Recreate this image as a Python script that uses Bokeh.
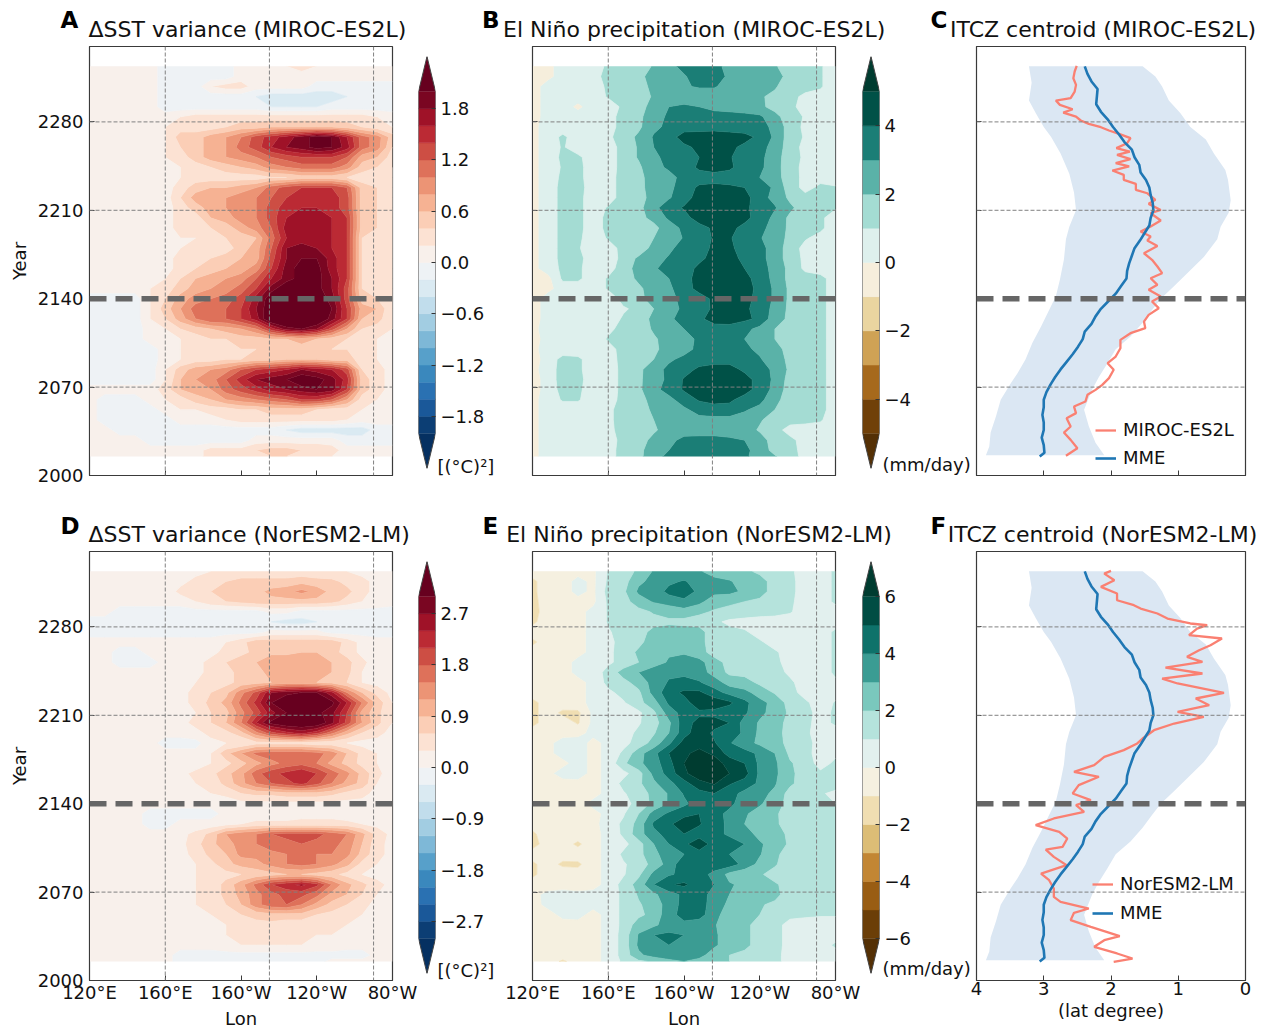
import numpy as np
from bokeh.embed import file_html
from bokeh.resources import INLINE
from bokeh.layouts import row, column
from bokeh.plotting import figure
from bokeh.models import (Range1d, FixedTicker, Span, Label, Legend, LegendItem, LinearAxis, GlobalInlineStyleSheet)

LONS = [120,128,136,144,152,160,168,176,184,192,200,208,216,224,232,240,248,256,264,272,280]
FIELD_YEARS = [2324,2316,2308,2300,2292,2284,2276,2268,2260,2252,2244,2236,2228,2220,2212,2204,2196,2188,2180,2172,
               2164,2156,2148,2140,2132,2124,2116,2108,2100,2092,2084,2076,2068,2060,2052,2044,2036,2028,2020,2015]

# all fields below are in tenths of the plotted unit, top row = latest year
SST_MIROC = [
[1,1,1,1,1,-1,-1,-1,-1,-1,1,1,1,2,3,2,1,1,1,1,1],
[1,1,1,1,1,-1,-1,-1,-1,-1,1,1,1,1,1,1,1,1,1,1,1],
[1,1,1,1,1,-1,-1,-1,2,3,3,1,1,1,1,-1,-1,-1,-1,-1,-1],
[1,1,1,1,1,-1,-1,-1,-1,-1,-1,-2,-3,-3,-3,-3,-3,-2,-1,-1,-1],
[1,1,1,1,1,-1,-1,-1,-1,-1,-1,-1,-2,-2,-2,-2,-1,-1,-1,-1,-1],
[1,1,1,1,1,1,2,3,3,3,3,3,3,3,3,3,3,3,3,2,1],
[1,1,1,1,1,2,3,3,3,4,5,5,6,6,6,6,6,5,4,3,2],
[1,1,1,1,1,2,5,5,7,8,10,13,15,17,19,21,20,16,11,9,5],
[1,1,1,1,1,2,4,5,7,8,11,13,16,18,19,21,20,17,11,9,4],
[1,1,1,1,1,2,3,5,7,8,9,10,12,13,14,14,14,12,7,6,3],
[1,1,1,1,1,1,2,3,4,5,6,7,9,10,11,11,11,9,5,4,2],
[1,1,1,1,1,1,2,3,3,3,3,3,4,4,5,5,5,4,3,3,2],
[1,1,1,1,1,1,3,5,6,6,7,8,11,13,14,14,14,12,5,4,2],
[1,1,1,1,1,1,4,7,8,8,9,10,12,14,15,15,15,13,5,4,2],
[1,1,1,1,1,1,3,5,7,8,9,10,13,15,16,16,15,13,5,4,2],
[1,1,1,1,1,1,3,3,6,7,9,10,13,16,17,17,16,14,5,4,2],
[1,1,1,1,1,1,3,3,4,5,7,9,12,17,17,17,16,14,5,4,2],
[1,1,1,1,1,1,2,2,3,4,5,6,11,16,17,17,16,14,4,3,2],
[1,1,1,1,1,1,2,3,3,3,5,7,12,18,19,18,16,14,4,3,2],
[1,1,1,1,1,1,3,3,4,5,6,7,13,18,20,20,17,14,4,3,2],
[1,1,1,1,1,1,3,4,5,6,7,9,14,19,21,21,17,14,4,3,2],
[1,1,1,1,1,2,4,6,7,8,9,12,16,19,21,21,18,14,4,3,2],
[1,1,1,1,2,3,5,7,8,9,11,14,19,22,22,21,18,13,4,3,2],
[-1,-1,-1,-1,2,4,7,9,10,11,13,17,22,23,23,22,19,13,5,4,2],
[-1,-1,-1,-1,2,5,8,11,12,12,14,18,22,24,24,23,20,14,7,6,2],
[-1,-1,-1,-1,2,4,7,10,12,12,14,17,23,24,24,23,19,14,6,5,2],
[-1,-1,-1,-1,1,2,4,5,6,7,8,10,15,19,20,18,13,8,4,3,2],
[-1,-1,-1,-1,1,1,2,3,4,4,5,5,6,6,7,6,5,4,3,2,1],
[-1,-1,-1,-1,-1,1,2,3,3,3,4,4,5,5,5,5,4,4,3,2,1],
[-1,-1,-1,-1,-1,1,2,3,3,4,4,5,5,6,6,6,5,5,3,2,1],
[-1,-1,-1,-1,-1,2,5,7,8,9,12,14,15,16,18,17,16,13,4,3,1],
[-1,-1,-1,-1,-1,2,6,8,9,12,15,18,19,20,22,21,19,15,5,3,1],
[1,1,1,1,1,3,6,7,8,11,13,15,17,18,19,20,19,14,5,3,1],
[1,-1,-1,-1,1,2,3,5,6,8,9,10,11,12,14,14,12,8,3,2,1],
[1,-1,-1,-1,-1,1,2,2,3,3,4,4,5,5,5,4,3,3,2,1,1],
[1,-1,-1,-1,-1,-1,1,1,1,2,3,3,3,3,3,3,3,2,1,1,1],
[1,1,-1,-1,-1,-1,-1,-1,-1,-1,-1,-1,-1,-2,-3,-3,-3,-3,-3,-1,-1],
[1,1,1,1,-1,-1,-1,-1,-1,-1,-1,1,1,1,1,1,1,-1,-1,-1,-1],
[1,1,1,1,1,1,1,1,3,3,3,4,5,5,4,4,3,1,1,1,1],
[1,1,1,1,1,1,1,1,3,3,3,4,4,4,3,3,2,1,1,1,1],
]
SST_NOR = [
[1,1,1,1,1,1,1,2,3,3,4,4,4,4,4,4,3,3,2,1,1],
[1,1,1,1,1,1,2,4,4,6,7,7,7,7,8,7,7,5,4,2,1],
[1,1,1,1,1,1,4,4,6,7,8,8,10,11,13,11,8,7,4,2,1],
[1,1,1,1,1,1,1,3,5,6,7,8,8,8,8,8,7,5,3,2,1],
[1,1,-1,-1,-1,-1,-1,-1,-1,-1,-1,-1,1,1,-1,-1,-1,-1,-1,-1,-1],
[-1,-1,-1,-1,-1,-1,-1,-1,-1,-2,-3,-3,-3,-4,-4,-3,-3,-2,-1,-1,-1],
[-1,-1,-1,-1,-1,-1,-1,-1,-1,-1,-1,-1,1,1,1,1,-1,-1,-1,-1,-1],
[1,1,1,1,1,1,1,1,1,3,5,8,8,8,8,8,8,5,2,1,1],
[1,1,-1,-1,1,1,1,1,2,4,5,7,8,8,9,9,7,5,2,1,1],
[1,1,-1,-1,-1,1,1,2,4,6,8,9,12,12,12,12,9,7,4,1,1],
[1,1,1,1,1,1,1,2,4,5,7,8,10,12,12,11,9,7,3,2,1],
[1,1,1,1,1,1,1,3,5,5,7,8,9,10,10,9,8,6,3,2,1],
[1,1,1,1,1,1,2,4,6,8,14,19,27,29,30,30,25,15,9,5,2],
[1,1,1,1,1,1,2,4,7,10,16,22,30,33,34,33,31,24,15,8,3],
[1,1,1,1,1,1,2,3,6,8,14,19,26,30,31,31,28,21,11,7,3],
[1,1,1,1,1,1,2,4,6,9,15,24,31,33,34,33,28,20,12,7,3],
[1,1,1,1,1,1,1,2,4,5,8,14,20,23,25,22,16,10,6,4,2],
[1,1,1,1,1,-1,-1,-1,2,3,3,5,5,5,5,4,4,3,2,2,1],
[1,1,1,1,1,1,1,1,3,8,12,16,17,17,17,16,14,9,5,3,1],
[1,1,1,1,1,1,1,1,3,5,8,11,14,16,17,15,11,8,5,3,1],
[1,1,1,1,1,1,2,4,5,8,11,17,20,22,24,21,17,13,8,4,1],
[1,1,1,1,1,1,2,3,4,7,11,15,18,20,22,19,15,11,8,3,1],
[1,1,1,1,1,1,1,2,3,4,6,7,7,8,8,8,7,5,4,2,1],
[1,1,1,1,1,1,1,1,1,1,2,2,2,2,2,2,2,2,2,2,1],
[1,1,1,1,-1,-1,-1,-1,-1,1,1,1,1,1,2,2,2,1,1,1,1],
[1,1,1,1,-1,-1,1,1,1,2,3,4,4,4,4,4,4,4,3,2,1],
[1,1,1,1,1,1,2,4,7,12,14,15,18,19,19,19,17,15,10,5,2],
[1,1,1,1,1,1,2,5,8,11,13,15,17,17,18,17,16,14,9,4,2],
[1,1,1,1,1,1,2,4,7,9,13,13,14,15,16,15,15,13,8,4,2],
[1,1,1,1,1,1,1,3,5,8,10,11,13,15,16,15,13,10,5,3,1],
[1,1,1,1,1,1,1,3,4,5,6,7,8,9,9,8,7,5,3,2,1],
[1,1,1,1,1,1,1,3,4,7,11,16,21,23,25,22,15,10,7,4,2],
[1,1,1,1,1,1,1,3,4,7,10,14,17,19,19,16,11,9,6,3,2],
[1,1,1,1,1,1,1,3,4,6,9,14,17,18,15,11,8,6,4,2,1],
[1,1,1,1,1,1,1,2,3,5,6,7,8,8,8,6,5,4,3,2,1],
[1,1,1,1,1,1,1,1,2,3,4,5,5,4,4,3,3,3,2,1,1],
[1,1,1,1,1,1,1,1,2,3,4,4,4,4,4,3,3,2,1,1,1],
[1,1,1,1,1,1,1,1,1,2,3,3,3,3,3,2,2,1,1,1,1],
[1,1,1,1,1,1,-1,-1,-1,-1,-1,-1,-1,-1,-1,-1,-1,-1,-1,1,1],
[1,1,1,1,1,1,-1,-1,-1,-1,-1,-1,-1,-1,-1,-1,1,1,1,1,1],
]
PR_MIROC = [
[-5,-3,5,5,5,12,15,15,21,27,33,36,33,27,26,26,21,15,14,11,5],
[-5,-3,5,5,5,15,15,18,23,26,29,35,35,28,26,26,26,15,15,11,5],
[-5,5,5,5,5,12,15,17,22,26,29,31,31,26,26,26,21,15,15,11,5],
[-5,5,5,5,5,11,13,16,21,23,24,24,24,23,22,21,18,14,7,7,5],
[-5,5,5,-2,5,5,12,16,24,30,32,30,28,27,25,22,17,12,7,6,5],
[-5,5,5,5,5,6,14,18,25,32,33,33,33,33,33,32,23,15,9,7,5],
[-3,5,5,5,5,6,14,18,28,32,36,36,36,36,35,33,28,15,8,6,5],
[-3,5,12,5,5,8,15,22,31,36,44,45,46,44,43,38,28,15,9,6,5],
[-3,5,11,5,5,5,14,21,30,36,38,42,43,42,38,34,26,15,7,7,5],
[-3,5,12,12,5,5,14,21,28,33,34,40,42,41,35,33,24,15,8,7,5],
[-3,5,11,13,5,5,14,18,28,31,34,42,43,42,35,32,25,13,8,6,5],
[-3,5,12,13,5,6,14,17,25,28,32,35,37,35,33,30,24,15,7,7,5],
[-3,5,13,14,5,6,14,18,23,28,34,42,42,42,40,36,28,15,7,12,11],
[-3,5,13,13,5,6,14,17,23,29,36,44,46,46,44,34,27,18,13,13,12],
[-3,5,13,13,5,11,14,17,27,36,41,44,46,45,42,36,31,22,15,13,11],
[-3,5,13,13,5,13,16,18,22,32,36,45,46,44,42,37,27,18,15,12,5],
[-3,5,13,13,5,13,15,16,18,24,33,36,42,42,38,33,26,18,15,12,5],
[-3,5,13,12,5,11,11,13,20,23,31,36,41,41,35,31,24,18,11,7,5],
[-3,5,13,11,5,6,13,13,24,28,34,36,42,42,36,33,26,15,7,7,5],
[-3,5,13,13,5,5,13,22,26,31,35,38,43,43,38,33,26,15,8,7,5],
[-3,5,12,12,5,6,15,24,29,33,36,42,45,45,40,34,27,17,8,7,5],
[-5,-3,12,12,5,11,15,22,26,30,36,44,45,45,43,36,27,17,14,12,7],
[-5,-3,5,5,5,11,15,18,25,28,36,43,46,46,43,38,28,18,14,12,7],
[-5,5,11,5,5,5,13,18,23,27,33,36,42,44,42,38,28,18,14,12,7],
[-5,5,5,5,5,6,9,12,20,26,32,35,42,44,41,38,26,18,14,12,7],
[-5,5,5,5,5,6,11,16,22,28,34,38,44,45,42,38,24,18,14,12,7],
[-3,5,5,5,5,8,13,16,21,26,30,34,36,36,33,27,20,16,14,12,7],
[-5,5,5,5,5,11,15,16,19,23,26,32,34,33,30,26,20,16,14,12,7],
[-3,5,5,5,5,7,13,15,18,24,26,33,33,34,32,28,24,16,14,12,7],
[-5,5,13,12,5,6,13,17,20,28,33,35,36,36,35,31,24,18,14,12,7],
[-3,5,14,12,5,5,13,18,25,33,36,42,44,44,38,34,28,18,14,12,7],
[-5,5,14,13,5,5,13,18,26,32,41,46,46,46,44,36,28,16,14,12,7],
[-5,5,13,12,5,5,13,18,27,34,41,44,46,46,44,36,27,15,14,12,7],
[-3,5,11,11,5,6,13,17,23,27,35,41,43,42,36,33,23,15,14,12,7],
[-3,5,5,5,5,8,14,15,22,26,28,34,36,36,31,27,20,15,13,12,7],
[-3,5,5,5,5,8,14,16,20,26,26,27,27,27,26,21,16,13,12,11,5],
[-3,5,5,5,5,8,13,16,19,23,25,26,26,25,24,19,13,7,7,6,5],
[-3,5,5,5,5,6,13,17,22,27,33,33,33,32,30,24,16,12,7,5,5],
[-3,5,5,5,5,7,13,17,26,30,34,35,36,35,33,25,17,13,7,5,5],
[-3,5,5,5,5,6,14,17,27,32,34,34,34,34,32,25,21,14,7,5,5],
]
PR_NOR = [
[-5,-5,-4,-3,-2,11,15,22,31,33,33,31,26,24,22,18,15,12,5,5,12],
[-12,-5,-4,3,-2,12,16,28,33,38,41,36,33,31,26,24,16,13,5,5,12],
[-12,-5,-4,3,-2,14,18,32,34,43,45,38,33,33,28,24,16,13,5,5,12],
[-13,-5,-4,-3,-2,12,16,25,31,34,38,33,24,22,20,18,14,12,5,5,12],
[-14,-5,-4,-3,3,11,14,17,21,24,26,22,19,17,15,14,13,11,5,5,5],
[-12,-5,-4,-3,3,11,13,15,17,18,17,16,12,8,7,6,6,5,5,5,5],
[-5,-5,-4,-3,3,9,14,16,23,25,25,24,14,13,11,7,5,5,5,5,12],
[-12,-5,-4,-3,3,8,13,17,26,28,28,24,14,13,12,11,7,5,5,5,12],
[-5,-5,-4,-3,3,8,14,22,28,29,29,25,15,14,13,13,11,7,5,5,12],
[-5,-5,-4,3,3,8,14,20,26,31,34,33,25,16,14,13,12,7,5,5,12],
[-4,-5,-4,3,4,14,24,30,35,38,38,35,26,18,17,15,14,8,5,5,12],
[-4,-5,-4,-3,3,13,17,24,34,41,43,41,35,26,24,18,15,12,5,5,8],
[-4,-5,-4,-3,3,8,13,18,34,46,52,52,44,37,33,26,19,14,6,5,6],
[-13,-5,-4,-3,3,3,9,17,26,42,46,56,56,52,43,33,27,16,12,5,11],
[-13,-5,-12,-12,3,3,4,8,18,35,44,48,47,44,42,32,27,18,14,6,12],
[-13,-5,-4,-11,3,3,5,9,16,28,46,53,54,50,36,29,24,17,13,6,12],
[-4,-5,-4,-3,3,3,6,12,19,30,46,56,48,46,38,28,24,16,12,6,5],
[-4,-3,5,5,-3,3,7,14,24,38,54,56,51,41,34,28,24,17,14,6,5],
[-4,-3,5,5,-3,3,12,26,37,50,58,63,58,46,44,38,30,18,14,5,8],
[-4,-3,-3,5,-3,3,18,28,35,47,60,66,65,56,50,38,32,21,16,6,12],
[-5,-3,5,5,-3,3,7,16,33,44,58,66,64,60,54,38,32,23,14,12,16],
[-4,-5,-4,-3,-3,3,13,18,28,37,46,57,61,51,46,38,31,22,15,12,14],
[-4,-4,-5,-4,-3,3,9,15,23,31,41,46,50,44,37,33,28,16,13,11,8],
[-5,-4,-4,-4,3,3,7,13,23,31,38,45,46,42,36,31,26,15,12,11,10],
[-5,-4,-4,-4,-3,3,9,20,34,42,47,50,43,38,31,27,22,14,12,11,11],
[-5,-4,-4,-4,-3,5,12,24,42,48,56,51,44,38,30,26,22,15,12,11,12],
[-12,-4,-4,-4,-3,3,12,26,37,44,50,46,44,38,33,28,24,18,13,11,11],
[-14,-5,-5,-12,-3,3,7,16,30,40,48,56,46,46,40,31,27,18,14,12,12],
[-5,-5,-5,-4,-3,3,12,17,27,36,40,46,44,40,38,31,22,16,13,12,12],
[-12,-5,-12,-12,-3,3,9,14,24,34,47,50,44,45,37,27,21,15,13,12,11],
[-12,-5,-3,-5,-3,3,9,18,33,39,42,43,38,27,23,21,17,14,12,11,11],
[-5,-5,-3,-5,-3,3,14,24,40,49,52,45,40,31,28,25,21,17,14,12,11],
[-3,3,3,3,3,3,13,21,28,36,42,45,36,30,30,27,23,15,13,11,11],
[-4,3,3,3,3,3,13,19,24,35,43,45,35,28,26,21,18,14,12,11,11],
[-4,-4,3,3,-3,3,13,18,23,37,43,44,34,24,23,20,16,13,12,11,11],
[-4,-4,-4,-3,-3,3,13,25,28,35,38,35,31,24,22,17,14,6,5,5,5],
[-4,-4,-4,-4,-3,3,14,31,40,42,40,33,32,24,22,17,14,6,5,5,5],
[-4,-4,-4,-4,-3,3,14,32,38,40,40,37,32,24,22,17,14,6,5,5,12],
[-4,-4,-4,-4,-3,3,14,28,34,38,38,34,24,20,18,15,13,6,5,5,5],
[-4,-4,-12,-4,-3,3,12,18,21,26,30,26,24,20,16,15,13,6,5,5,5],
]

MME_YEARS = [2324,2318,2312,2306,2300,2294,2288,2282,2276,2270,2264,2258,2252,2246,2240,2234,2228,2222,2216,2210,
             2204,2198,2192,2186,2180,2174,2168,2162,2156,2150,2144,2138,2132,2126,2120,2114,2108,2102,2096,2090,
             2084,2078,2072,2066,2060,2054,2048,2042,2036,2030,2024,2018,2015]
MME_ITCZ = [2.39,2.35,2.29,2.20,2.21,2.22,2.15,2.05,1.97,1.88,1.80,1.69,1.65,1.58,1.56,1.48,1.43,1.41,1.38,1.37,
            1.41,1.43,1.50,1.57,1.65,1.69,1.73,1.76,1.77,1.85,1.93,2.04,2.15,2.23,2.29,2.39,2.42,2.49,2.57,2.66,
            2.75,2.83,2.90,2.96,3.00,3.00,3.02,3.00,3.00,3.03,3.00,2.99,3.06]
BAND_LOW_YEARS = [2324,2311,2297,2287,2276,2268,2255,2239,2224,2210,2197,2187,2171,2155,2142,2131,2118,2105,2092,2081,2073,2060,2047,2034,2023,2016]
BAND_LOW = [3.22,3.18,3.22,3.12,3.00,2.89,2.75,2.62,2.55,2.52,2.62,2.67,2.70,2.76,2.82,2.92,3.04,3.17,3.27,3.39,3.49,3.64,3.71,3.79,3.81,3.86]
BAND_HIGH_YEARS = [2324,2316,2308,2297,2287,2276,2266,2255,2242,2234,2218,2208,2197,2187,2173,2160,2150,2140,2131,2121,2110,2100,2089,2078,2068,2052,2039,2026,2016]
BAND_HIGH = [1.53,1.34,1.24,1.14,0.97,0.82,0.59,0.47,0.30,0.26,0.22,0.25,0.37,0.42,0.62,0.87,1.06,1.26,1.39,1.53,1.71,1.93,2.05,2.18,2.28,2.40,2.33,2.23,2.10]

MIROC_YEARS = [2324.4,2319.9,2314.6,2309.3,2304,2298.8,2296.9,2293.5,2290,2287.4,2284.2,2281.1,2278.4,2275.8,2273.2,2270.5,2267.1,2263.1,2259.2,2256.5,
               2253.9,2250.5,2247.3,2244.7,2241.5,2238.1,2234.1,2230.9,2226.2,2223.5,2218.3,2215.1,2210.3,2207.7,2201.9,2197.1,2193.2,2189.2,2186.1,2181.8,
               2176,2170.8,2165.5,2160.2,2156.2,2151,2147,2141.7,2137.8,2132.5,2127.2,2121.9,2116.7,2112.7,2107.4,2100.8,2094.2,2088.9,2083.7,2077.1,
               2071.8,2067.8,2063.9,2058.6,2054.6,2049.4,2045.4,2038.8,2034,2028.2,2021.6,2015.6]
MIROC_ITCZ = [2.51,2.54,2.56,2.52,2.54,2.60,2.82,2.76,2.57,2.71,2.52,2.45,2.33,2.15,2.03,1.88,1.71,1.76,1.92,1.72,
              1.91,1.71,1.93,1.73,1.98,1.81,1.81,1.63,1.63,1.46,1.34,1.44,1.26,1.41,1.26,1.41,1.56,1.41,1.46,1.31,
              1.51,1.39,1.31,1.24,1.41,1.31,1.44,1.26,1.39,1.29,1.44,1.51,1.49,1.71,1.86,1.86,1.93,2.05,1.96,2.03,
              2.13,2.23,2.35,2.38,2.55,2.52,2.66,2.60,2.70,2.60,2.50,2.67]
NOR_YEARS = [2324.4,2322.2,2317,2311.7,2306.4,2301.1,2297.2,2294.5,2290.6,2286.6,2282.7,2281.3,2278.7,2273.4,2270.8,2265.5,2261.5,2256.3,2252.3,2247.8,
             2243.1,2239.1,2235.2,2227.8,2223.3,2218,2212.7,2208.8,2203.5,2198.2,2191.6,2187.7,2182.4,2177.1,2170.5,2165.2,2161.3,2154.7,2148.1,2142.8,
             2138.8,2133.5,2128.3,2123,2117.7,2112.4,2105.8,2103.7,2097.9,2091.3,2084.7,2079.4,2072.8,2066.2,2062.3,2057,2053.6,2047.8,2042.5,2035.1,
             2031.9,2026.7,2021.4,2017.4,2014.8]
NOR_ITCZ = [2.00,2.10,1.95,2.15,1.91,1.91,1.66,1.56,1.31,1.16,0.82,0.57,0.72,0.84,0.35,0.52,0.69,0.87,0.64,1.19,
            0.64,1.24,1.01,0.32,0.74,0.54,1.01,0.62,1.06,1.36,1.53,1.61,1.81,2.10,2.25,2.55,2.18,2.48,2.57,2.30,
            2.52,2.40,2.85,3.12,2.77,2.65,2.72,2.97,2.85,2.66,3.04,2.92,2.85,2.85,2.75,2.33,2.55,2.60,2.30,1.87,
            2.10,2.25,1.91,1.68,1.96]

YEAR_TICKS = [2000,2070,2140,2210,2280]
LON_TICKS = {120:"120°E",160:"160°E",200:"160°W",240:"120°W",280:"80°W"}
LAT_TICKS = {4:"4",3:"3",2:"2",1:"1",0:"0"}
VERT_LINES = [160,215,270]
HORI_LINES = [2070,2210,2280]
THICK_LINE = 2140
RDBU_STOPS = ["#053061","#2166ac","#4393c3","#92c5de","#d1e5f0","#f7f7f7","#fddbc7","#f4a582","#d6604d","#b2182b","#67001f"]
BRBG_STOPS = ["#543005","#8c510a","#bf812d","#dfc27d","#f6e8c3","#f5f5f5","#c7eae5","#80cdc1","#35978f","#01665e","#003c30"]

FONT = "DejaVu Sans"
INK = "#111111"
YEAR_RANGE = (2000, 2339.7)

def cmap(stops, t):
    t = min(max(t, 0), 1) * (len(stops) - 1)
    i = min(int(t), len(stops) - 2)
    a = [int(stops[i][k:k+2], 16) for k in (1, 3, 5)]
    b = [int(stops[i+1][k:k+2], 16) for k in (1, 3, 5)]
    f = t - i
    return "#%02x%02x%02x" % tuple(round(a[k] + (b[k] - a[k]) * f) for k in range(3))

def base_fig(xr, left, right, bottom=38, w=303):
    p = figure(x_range=xr, y_range=Range1d(*YEAR_RANGE), frame_width=w, frame_height=429,
               min_border_left=left, min_border_right=right, min_border_top=1, min_border_bottom=bottom,
               output_backend="svg", toolbar_location=None,
               background_fill_color=None, border_fill_color=None, outline_line_color="#3a3a3a", outline_line_width=1.2)
    p.grid.grid_line_color = None
    p.yaxis.ticker = FixedTicker(ticks=YEAR_TICKS)
    for ax in (p.xaxis[0], p.yaxis[0]):
        ax.major_tick_in = 5; ax.major_tick_out = 0; ax.minor_tick_line_color = None
        ax.axis_line_color = "#3a3a3a"; ax.major_tick_line_color = "#3a3a3a"
        ax.major_label_text_font = FONT; ax.major_label_text_font_size = "18px"
        ax.major_label_text_color = INK; ax.axis_label_text_font = FONT
        ax.axis_label_text_font_size = "18px"; ax.axis_label_text_font_style = "normal"
        ax.axis_label_text_color = INK; ax.major_label_standoff = 6
    p.xaxis.major_label_standoff = 1
    return p

def refs(p, vertical=True):
    if vertical:
        for v in VERT_LINES:
            p.add_layout(Span(location=v, dimension="height", line_color="gray", line_width=1, line_dash="4 2"))
    for v in HORI_LINES:
        p.add_layout(Span(location=v, dimension="width", line_color="gray", line_width=1, line_dash="4 2"))
    p.add_layout(Span(location=THICK_LINE, dimension="width", line_color="#666666", line_width=5.5, line_dash="17 9"))

def map_panel(field, stops, top, n, left, right, lower, bottom, year_axis):
    p = base_fig(Range1d(120, 280), left, right, bottom=bottom)
    z = np.array(field, dtype=float)[::-1] * 0.1
    y = np.array(FIELD_YEARS, dtype=float)[::-1]
    lv = list(np.linspace(-top, top, n + 1))
    levels = [-99.0] + lv + [99.0]
    cols = [cmap(stops, 0.0)] + [cmap(stops, (i + .5) / n) for i in range(n)] + [cmap(stops, 1.0)]
    p.contour(np.array(LONS, dtype=float), y, z, levels, fill_color=cols,
              line_color=[cols[0]] + cols, line_width=0.7)
    refs(p)
    p.xaxis.ticker = FixedTicker(ticks=list(LON_TICKS))
    p.xaxis.major_label_overrides = dict(LON_TICKS) if lower else {k: "" for k in LON_TICKS}
    if lower:
        p.xaxis.axis_label = "Lon"; p.xaxis.axis_label_standoff = 2
    if year_axis:
        p.yaxis.axis_label = "Year"; p.yaxis.axis_label_standoff = 5
    else:
        p.yaxis.major_label_overrides = {k: "" for k in YEAR_TICKS}
    return p

def bar_panel(stops, top, n, ticks, left, right, bottom):
    half = top + 2 * top * 35 / 341
    p = figure(x_range=Range1d(0, 1), y_range=Range1d(-half, half), frame_width=17, frame_height=412,
               min_border_left=left, min_border_right=right, min_border_top=0, min_border_bottom=bottom,
               output_backend="svg", toolbar_location=None, background_fill_color=None,
               border_fill_color=None, outline_line_color=None)
    p.grid.grid_line_color = None
    p.xaxis.visible = False
    p.yaxis.visible = False
    lv = np.linspace(-top, top, n + 1)
    cols = [cmap(stops, (i + .5) / n) for i in range(n)]
    p.quad(left=0, right=1, bottom=lv[:-1], top=lv[1:], fill_color=cols, line_color=cols, line_width=0.5)
    p.patch([0, .5, 1], [top, half, top], fill_color=cmap(stops, 1.0), line_color=None)
    p.patch([0, .5, 1], [-top, -half, -top], fill_color=cmap(stops, 0.0), line_color=None)
    p.line([0, 0, .5, 1, 1, .5, 0], [-top, top, half, top, -top, -half, -top], line_color="#444444", line_width=1)
    ax = LinearAxis(ticker=FixedTicker(ticks=ticks), major_label_overrides={
        t: (("%.1f" % t) if top in (2, 3) else "%d" % t).replace("-", "−") for t in ticks})
    ax.major_tick_in = 4; ax.major_tick_out = 0; ax.minor_tick_line_color = None
    ax.axis_line_color = None; ax.major_tick_line_color = "#333333"
    ax.major_label_text_font = FONT; ax.major_label_text_font_size = "18px"
    ax.major_label_text_color = INK; ax.major_label_standoff = 5
    p.add_layout(ax, "right")
    return p

def itcz_panel(years, vals, name, left, right, lower, bottom, lx, ly, spacing):
    p = base_fig(Range1d(4, 0), left, right, bottom=bottom, w=269)
    p.patch(BAND_LOW + BAND_HIGH[::-1], BAND_LOW_YEARS + BAND_HIGH_YEARS[::-1], fill_color="#dbe7f3", line_color=None)
    refs(p, vertical=False)
    r1 = p.line(vals, years, line_color="#fa8072", line_width=2.3)
    r2 = p.line(MME_ITCZ, MME_YEARS, line_color="#1f77b4", line_width=2.6)
    p.xaxis.ticker = FixedTicker(ticks=list(LAT_TICKS))
    p.xaxis.major_label_overrides = dict(LAT_TICKS) if lower else {k: "" for k in LAT_TICKS}
    if lower:
        p.xaxis.axis_label = "(lat degree)"; p.xaxis.axis_label_standoff = 2
    p.yaxis.major_label_overrides = {k: "" for k in YEAR_TICKS}
    leg = Legend(items=[LegendItem(label=name, renderers=[r1]), LegendItem(label="MME", renderers=[r2])],
                 location=(lx, ly), background_fill_alpha=0, border_line_color=None, padding=0, margin=0,
                 spacing=spacing, glyph_width=21, glyph_height=20, label_standoff=7, label_height=20,
                 label_text_font=FONT, label_text_font_size="18px", label_text_color=INK)
    p.add_layout(leg)
    return p

def blank(width, height, x_start, y_top, margin):
    q = figure(x_range=Range1d(x_start, x_start + width), y_range=Range1d(y_top + height, y_top),
               frame_width=width, frame_height=height, x_axis_location=None, y_axis_location=None,
               min_border=0, output_backend="svg", toolbar_location=None, background_fill_color=None,
               border_fill_color=None, outline_line_color=None, margin=margin)
    q.grid.grid_line_color = None
    return q

def strip(y_top, titles, letters):
    q = blank(1251, 37, 8, y_top, (0, 0, 0, 0))
    for t, x, y in titles:
        q.add_layout(Label(x=x, y=y, text=t, text_font=FONT, text_font_size="22px", text_color=INK, text_baseline="middle"))
    for t, x, y in letters:
        q.add_layout(Label(x=x, y=y, text=t, text_font=FONT, text_font_size="23px", text_font_style="bold", text_color="#000000", text_baseline="middle"))
    return q

def unit(text, left, width, margin):
    q = blank(width, 26, left, 0, margin)
    q.add_layout(Label(x=left + 1, y=13, text=text, text_font=FONT, text_font_size="18px", text_color=INK, text_baseline="middle"))
    return q

top_strip = strip(8, [("ΔSST variance (MIROC-ES2L)", 88, 29), ("El Niño precipitation (MIROC-ES2L)", 502.5, 29), ("ITCZ centroid (MIROC-ES2L)", 949.5, 29)],
                  [("A", 60, 19.5), ("B", 481.5, 19.5), ("C", 930, 19.5)])
low_strip = strip(513, [("ΔSST variance (NorESM2-LM)", 88, 534), ("El Niño precipitation (NorESM2-LM)", 505.7, 534), ("ITCZ centroid (NorESM2-LM)", 947.3, 534)],
                  [("D", 60, 525), ("E", 482, 525), ("F", 930, 525)])

B2 = 48
a = map_panel(SST_MIROC, RDBU_STOPS, 2, 20, 81, 30, False, 38, True)
ca = bar_panel(RDBU_STOPS, 2, 20, [-1.8,-1.2,-0.6,0.0,0.6,1.2,1.8], 8, 70, 46)
ua = unit("[(°C)²]", 436, 64, (407, 0, 0, -69))
b = map_panel(PR_MIROC, BRBG_STOPS, 5, 10, 54, 60, False, 38, False)
cb = bar_panel(BRBG_STOPS, 5, 10, [-4,-2,0,2,4], 10, 95, 46)
ub = unit("(mm/day)", 881, 92, (405, 0, 0, -93))
c = itcz_panel(MIROC_YEARS, MIROC_ITCZ, "MIROC-ES2L", 51, 14, False, 38, 119, 7, 7)
d = map_panel(SST_NOR, RDBU_STOPS, 3, 20, 81, 30, True, B2, True)
cd = bar_panel(RDBU_STOPS, 3, 20, [-2.7,-1.8,-0.9,0.0,0.9,1.8,2.7], 8, 70, B2+8)
ud = unit("[(°C)²]", 436, 64, (406, 0, 0, -69))
e = map_panel(PR_NOR, BRBG_STOPS, 6, 12, 54, 60, True, B2, False)
ce = bar_panel(BRBG_STOPS, 6, 12, [-6,-4,-2,0,2,4,6], 10, 95, B2+8)
ue = unit("(mm/day)", 881, 92, (404, 0, 0, -93))
f = itcz_panel(NOR_YEARS, NOR_ITCZ, "NorESM2-LM", 51, 14, True, B2, 116, 57, 8)

for fl in ((a, ca, b, cb, c), (d, cd, e, ce, f)):
    fl[0].margin = (0, 0, 0, -3)
    fl[1].margin = (10, 0, 0, -12)
    fl[2].margin = (0, 0, 0, -22)
    fl[3].margin = (10, 0, 0, -43)
    fl[4].margin = (0, 0, 0, -48)

page = column(top_strip, row(a, ca, ua, b, cb, ub, c, align="start"), low_strip, row(d, cd, ud, e, ce, ue, f, align="start"))
page.stylesheets = [GlobalInlineStyleSheet(css="html{overflow:hidden} body{margin:8px 0 0 8px;width:1259px;height:1020px;overflow:clip}")]
open("out.html", "w").write(file_html(page, INLINE))
